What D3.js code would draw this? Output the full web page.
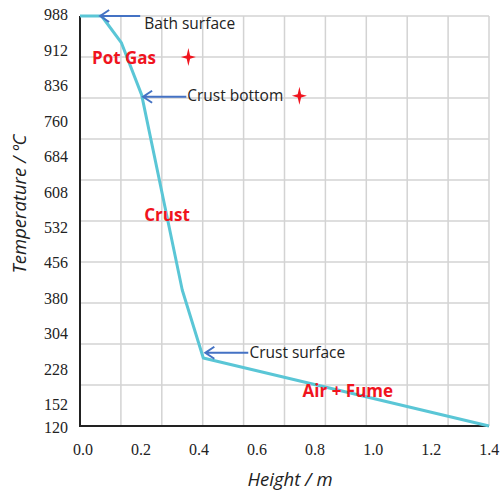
<!DOCTYPE html>
<html><head><meta charset="utf-8">
<script src="https://cdn.jsdelivr.net/npm/d3@7"></script>
<style>
html,body{margin:0;padding:0;background:#fff;}
svg{display:block;}
</style></head>
<body>
<svg id="chart" width="500" height="493"></svg>
<script>
// ---- data ----
const heights = [0, 0.074, 0.142, 0.211, 0.350, 0.422, 1.4];
const temps   = [988, 988, 931, 821, 408, 264, 120];

const xTickValues = [0, 0.2, 0.4, 0.6, 0.8, 1.0, 1.2, 1.4];
const yTickValues = [988, 912, 836, 760, 684, 608, 532, 456, 380, 304, 228, 152, 120];

const starHeights = [0.371, 0.751];
const starTemps   = [901, 819];

const regionNames   = ["Pot Gas", "Crust", "Air + Fume"];
const regionHeights = [0.041, 0.220, 0.762];
const regionTemps   = [899, 567, 194];

const noteNames      = ["Bath surface", "Crust bottom", "Crust surface"];
const noteHeadX      = [0.069, 0.216, 0.429];
const noteTemps      = [988, 817, 275];
const noteTailX      = [0.206, 0.364, 0.576];
const noteTextX      = [0.220, 0.367, 0.580];
const noteTextTemps  = [973, 819, 275];

// ---- layout ----
const svg = d3.select("#chart");
const pL = 80, pR = 489, pT = 16, pB = 426;

const x = d3.scaleLinear().domain([0, 1.4]).range([pL, pR]);
const y = d3.scaleLinear().domain([120, 988]).range([pB, pT]);
// tick-label placement as in the reference (labels sit slightly off the grid)
const yLab = d3.scaleLinear().domain([152, 988]).range([405, 15]);
const labelY = v => v < 152 ? pB + 2 : yLab(v);

// grid (10 x 10 divisions)
const g = svg.append("g");
const gx = d3.range(11).map(i => 1.4 * i / 10);
const gy = d3.range(11).map(i => 120 + 868 * i / 10);
g.selectAll("line.vg").data(gx).join("line")
  .attr("x1", d => x(d)).attr("x2", d => x(d))
  .attr("y1", pT).attr("y2", pB)
  .attr("stroke", "#d3d3d3").attr("stroke-width", 1.5);
g.selectAll("line.hg").data(gy).join("line")
  .attr("x1", pL).attr("x2", pR)
  .attr("y1", d => y(d)).attr("y2", d => y(d))
  .attr("stroke", "#d3d3d3").attr("stroke-width", 1.5);

// axes lines
svg.append("line").attr("x1", pL).attr("x2", pL).attr("y1", pT).attr("y2", pB + 1)
  .attr("stroke", "#222").attr("stroke-width", 2);
svg.append("line").attr("x1", pL - 1).attr("x2", pR).attr("y1", pB).attr("y2", pB)
  .attr("stroke", "#222").attr("stroke-width", 2);

// tick labels
svg.selectAll("text.xt").data(xTickValues).join("text")
  .attr("x", d => x(d) + 3 - d * 2).attr("y", 455)
  .attr("text-anchor", "middle")
  .attr("font-family", "'Liberation Serif', 'Times New Roman', serif")
  .attr("font-size", 16).attr("fill", "#222")
  .text(d => d3.format(".1f")(d));
svg.selectAll("text.yt").data(yTickValues).join("text")
  .attr("x", 68).attr("y", d => labelY(d)).attr("dy", "0.33em")
  .attr("text-anchor", "end")
  .attr("font-family", "'Liberation Serif', 'Times New Roman', serif")
  .attr("font-size", 16).attr("fill", "#222")
  .text(d => d);

// axis titles
svg.append("text").attr("x", 290).attr("y", 486)
  .attr("text-anchor", "middle")
  .attr("font-family", "'Open Sans', sans-serif").attr("font-style", "italic")
  .attr("font-size", 18.5).attr("fill", "#222")
  .text("Height / m");
svg.append("text").attr("transform", "translate(26,204) rotate(-90)")
  .attr("text-anchor", "middle")
  .attr("font-family", "'Open Sans', sans-serif").attr("font-style", "italic")
  .attr("font-size", 18.5).attr("fill", "#222")
  .text("Temperature / ºC");

// data line
const line = d3.line().x(d => x(d[0])).y(d => y(d[1]));
svg.append("path").datum(heights.map((h, i) => [h, temps[i]]))
  .attr("d", line).attr("fill", "none")
  .attr("stroke", "#5ac6d6").attr("stroke-width", 3)
  .attr("stroke-linejoin", "round");

// stars
const starPath = "M0,-9 L1.7,-1.7 L7.5,0 L1.7,1.7 L0,9 L-1.7,1.7 L-7.5,0 L-1.7,-1.7 Z";
svg.selectAll("path.star").data(starHeights).join("path")
  .attr("d", starPath)
  .attr("transform", (d, i) => `translate(${x(d)},${y(starTemps[i])})`)
  .attr("fill", "#f0141e");

// region labels
svg.selectAll("text.region").data(regionNames).join("text")
  .attr("x", (d, i) => x(regionHeights[i]))
  .attr("y", (d, i) => y(regionTemps[i])).attr("dy", "0.36em")
  .attr("font-family", "'Open Sans', sans-serif").attr("font-weight", "bold")
  .attr("font-size", 17).attr("fill", "#f0141e")
  .text(d => d);

// annotations with arrows
noteNames.forEach((name, i) => {
  const hx = x(noteHeadX[i]), hy = y(noteTemps[i]), tx = x(noteTailX[i]);
  svg.append("path")
    .attr("d", `M${tx},${hy} L${hx},${hy} M${hx + 9},${hy - 6} L${hx},${hy} L${hx + 9},${hy + 6}`)
    .attr("fill", "none").attr("stroke", "#4472c4").attr("stroke-width", 2);
  svg.append("text")
    .attr("x", x(noteTextX[i])).attr("y", y(noteTextTemps[i])).attr("dy", "0.36em")
    .attr("font-family", "'Open Sans', sans-serif")
    .attr("font-size", 15.5).attr("fill", "#222")
    .text(name);
});
</script>
</body></html>
